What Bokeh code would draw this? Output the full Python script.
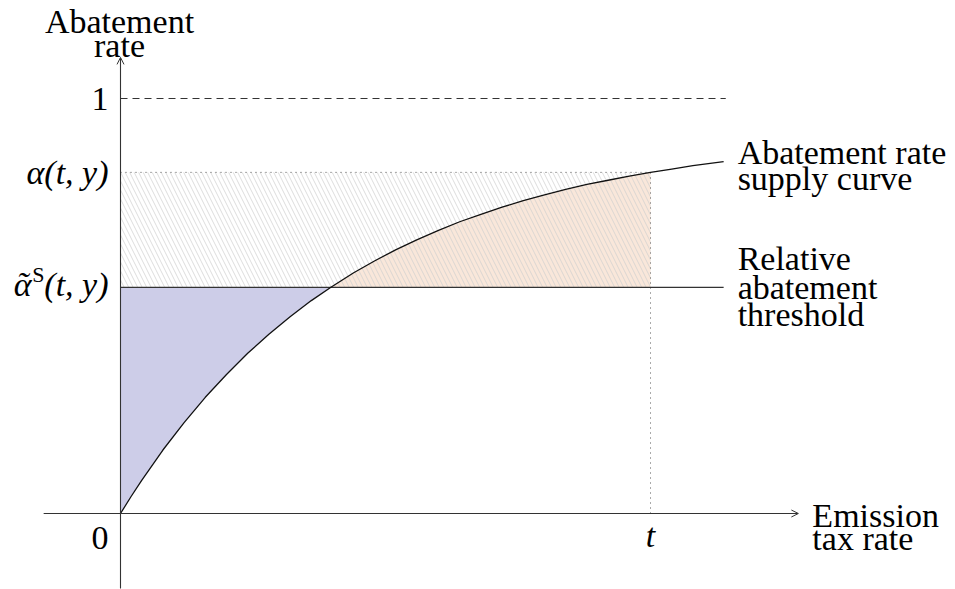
from bokeh.plotting import figure
from bokeh.models import Label, Arrow, OpenHead, Range1d
from bokeh.embed import file_html
from bokeh.resources import INLINE

# ---- data ----
curve_x = [0.0, 0.02, 0.04, 0.08, 0.12, 0.16, 0.20, 0.24, 0.28, 0.32, 0.36, 0.397,
           0.44, 0.48, 0.52, 0.56, 0.60, 0.64, 0.68, 0.72, 0.76, 0.80, 0.84, 0.88,
           0.92, 0.96, 1.0, 1.04, 1.08, 1.138]
curve_y = [0.0, 0.041, 0.080, 0.153, 0.219, 0.280, 0.335, 0.386, 0.432, 0.474, 0.513, 0.545,
           0.580, 0.609, 0.636, 0.660, 0.682, 0.703, 0.721, 0.738, 0.754, 0.768, 0.781, 0.793,
           0.803, 0.813, 0.822, 0.830, 0.838, 0.848]
threshold = 0.545       # relative abatement threshold
alpha_t = 0.822         # alpha(t, y)
t_val = 1.0             # emission tax rate t
one_level = 1.0
x_axis = [-0.145, 1.279]
y_axis = [-0.181, 1.099]
line_end = 1.142

FONT = "Liberation Serif"
FS = "34px"
RAISE = 10

W, H = 955, 589
p = figure(width=W, height=H, output_backend="svg", toolbar_location=None,
           x_range=Range1d(-120 / 530, 835 / 530), y_range=Range1d(-76 / 415, 513 / 415),
           min_border=0, background_fill_color="white", border_fill_color="white",
           outline_line_color=None)
p.axis.visible = False
p.grid.visible = False

i_cross = curve_y.index(threshold)
i_t = curve_x.index(t_val)

# blue region
p.patch(curve_x[:i_cross + 1] + [0.0], curve_y[:i_cross + 1] + [threshold],
        fill_color="#cdcde8", line_color=None)
# orange region
p.patch(curve_x[i_cross:i_t + 1] + [t_val], curve_y[i_cross:i_t + 1] + [threshold],
        fill_color="#f9e7da", line_color=None)
# hatched rectangle
p.quad(left=[0.0], right=[t_val], bottom=[threshold], top=[alpha_t], fill_alpha=0,
       hatch_pattern="\\", hatch_color="#cfcfcf", hatch_weight=0.7, hatch_scale=9,
       line_color=None)

# reference lines
p.line([0.0, line_end], [one_level, one_level], line_color="#333333", line_width=1,
       line_dash="7 5")
p.line([0.0, t_val], [alpha_t, alpha_t], line_color="#555555", line_width=1, line_dash="1 4")
p.line([t_val, t_val], [0.0, alpha_t], line_color="#555555", line_width=1, line_dash="1 4")
p.line([0.0, curve_x[-1]], [threshold, threshold], line_color="#333333", line_width=1.1)

# supply curve
p.line(curve_x, curve_y, line_color="#111111", line_width=1.3)

# axes
p.add_layout(Arrow(end=OpenHead(size=7, line_width=1, line_color="#333333"),
                   x_start=x_axis[0], y_start=0, x_end=x_axis[1], y_end=0,
                   line_color="#333333", line_width=1.1))
p.add_layout(Arrow(end=OpenHead(size=7, line_width=1, line_color="#333333"),
                   x_start=0, y_start=y_axis[0], x_end=0, y_end=y_axis[1],
                   line_color="#333333", line_width=1.1))


def lab(x, y, text, dx=0, dy=0, align="left", italic=False, size=FS):
    p.add_layout(Label(x=x, y=y, x_offset=dx, y_offset=dy + RAISE, text=text,
                       text_align=align, text_baseline="alphabetic", text_font=FONT,
                       text_font_size=size,
                       text_font_style="italic" if italic else "normal",
                       text_color="black"))


# y axis title
lab(0, y_axis[1], "Abatement", dx=-1, dy=26, align="center")
lab(0, y_axis[1], "rate", dx=-1, dy=2, align="center")
# x axis title
lab(x_axis[1], 0, "Emission", dx=14, dy=-12)
lab(x_axis[1], 0, "tax rate", dx=14, dy=-35)

# tick-like labels
lab(0, one_level, "1", dx=-12, dy=-10, align="right")
lab(0, alpha_t, "α(t, y)", dx=-12, dy=-10, align="right", italic=True)
lab(0, threshold, "(t, y)", dx=-12, dy=-7, align="right", italic=True)
lab(0, threshold, "S", dx=-76, dy=3, align="right", size="22px")
lab(0, threshold, "α", dx=-89, dy=-7, align="right", italic=True)
lab(0, threshold, "˜", dx=-98, dy=-7, align="center", italic=True)
lab(0, 0, "0", dx=-12, dy=-34, align="right")
lab(t_val, 0, "t", dx=0, dy=-32, align="center", italic=True)

# curve labels
lab(curve_x[-1], curve_y[-1], "Abatement rate", dx=14, dy=-1)
lab(curve_x[-1], curve_y[-1], "supply curve", dx=14, dy=-27)
lab(curve_x[-1], threshold, "Relative", dx=14, dy=19)
lab(curve_x[-1], threshold, "abatement", dx=14, dy=-10)
lab(curve_x[-1], threshold, "threshold", dx=14, dy=-37)

open("out.html", "w").write(file_html(p, INLINE))
